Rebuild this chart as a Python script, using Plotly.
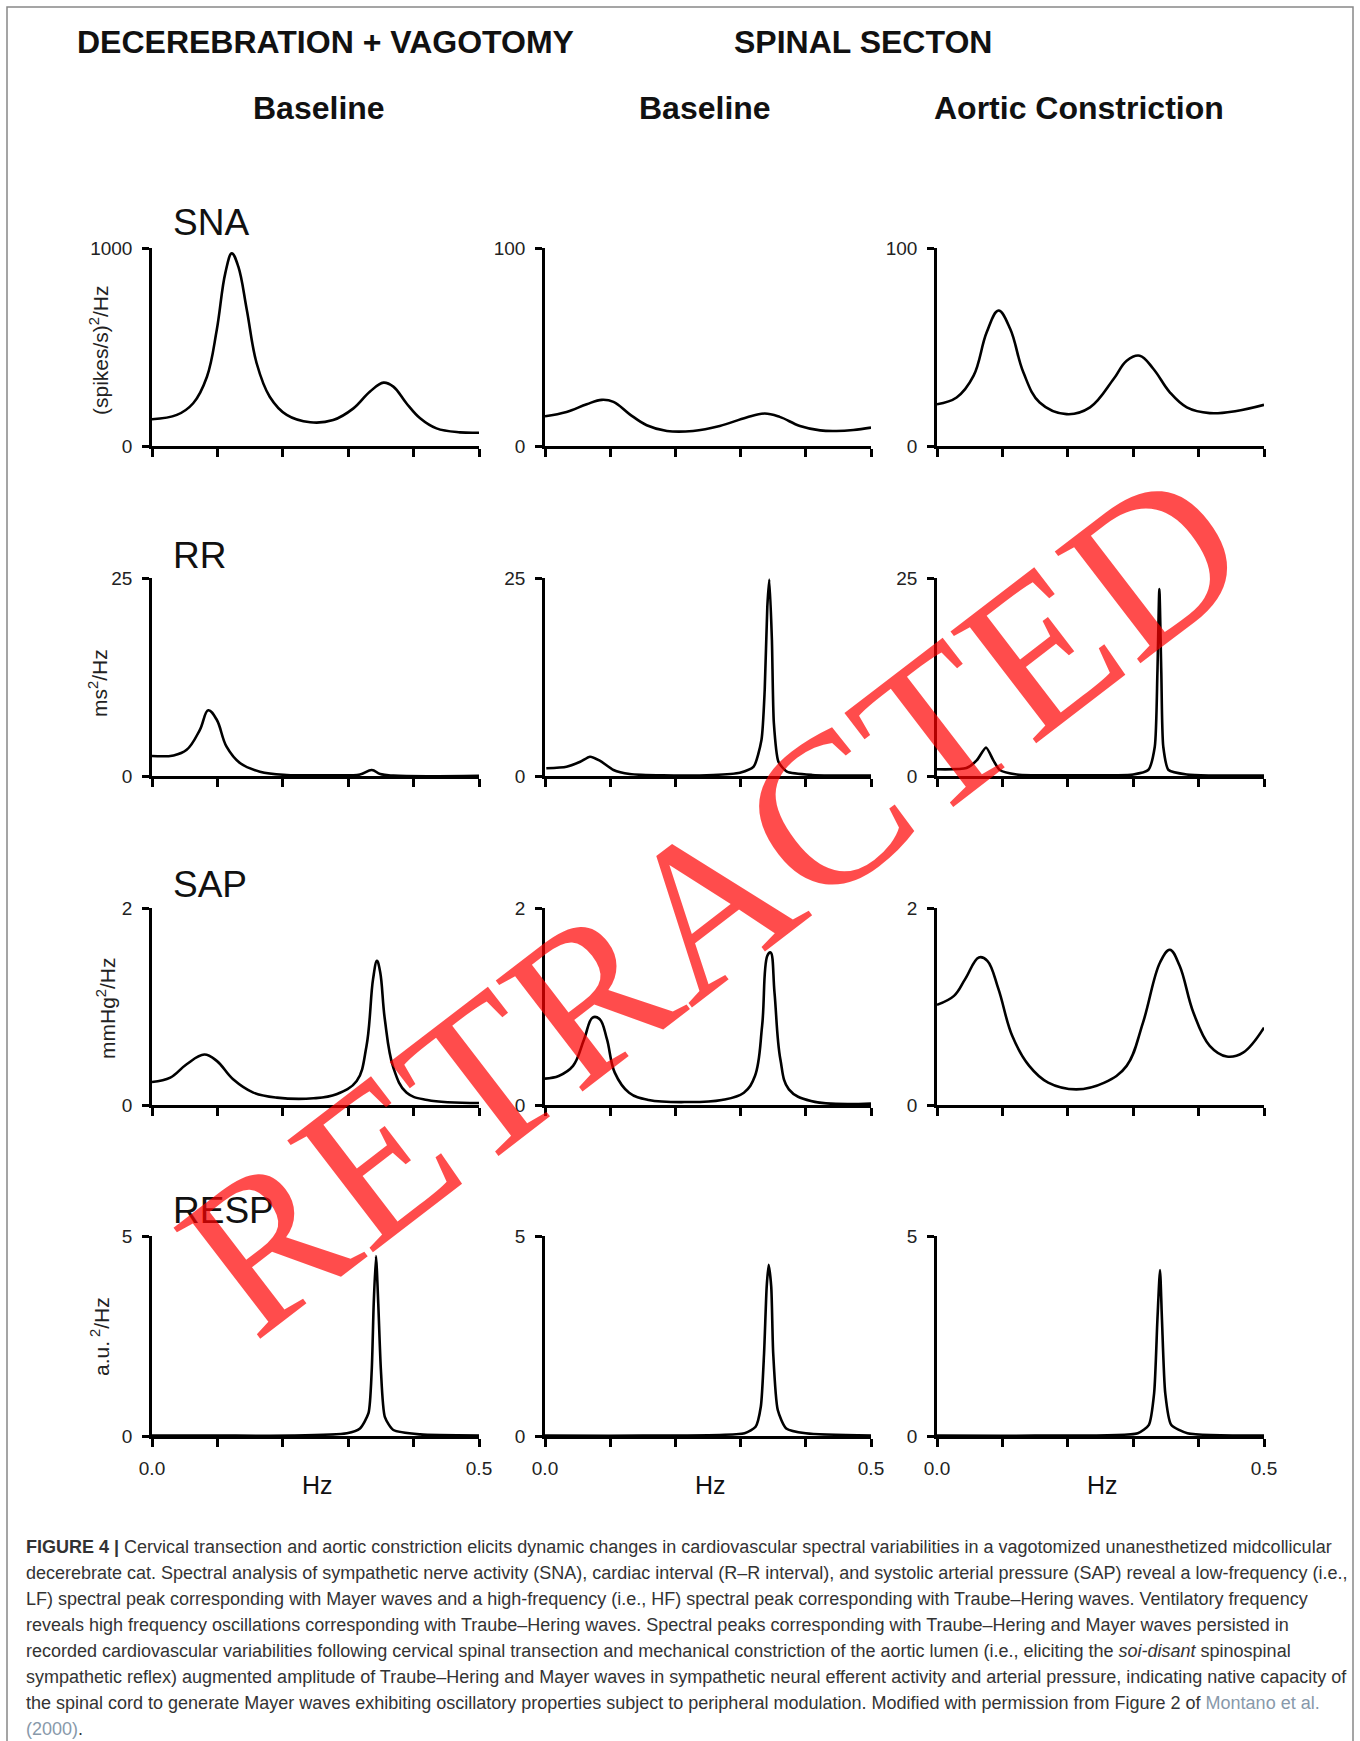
import plotly.graph_objects as go

# ---------------- data ----------------
# Row 1: SNA spectra ((spikes/s)^2/Hz)
SNA_DV_HZ = [0.000, 0.038, 0.063, 0.084, 0.099, 0.112, 0.122, 0.132, 0.145, 0.160, 0.180, 0.206, 0.242, 0.277, 0.308, 0.333, 0.354, 0.369, 0.389, 0.410, 0.435, 0.471, 0.500]
SNA_DV = [135, 157, 216, 350, 586, 872, 973, 906, 687, 418, 249, 157, 120, 131, 190, 274, 320, 300, 216, 140, 89, 69, 67]
SNA_SB_HZ = [0.000, 0.033, 0.064, 0.087, 0.105, 0.130, 0.156, 0.187, 0.227, 0.268, 0.309, 0.337, 0.360, 0.391, 0.422, 0.447, 0.473, 0.500]
SNA_SB = [15.0, 17.2, 21.1, 23.3, 22.3, 16.0, 10.5, 7.6, 7.6, 10.1, 14.4, 16.4, 14.7, 10.1, 7.9, 7.6, 8.1, 9.3]
SNA_AC_HZ = [0.000, 0.030, 0.056, 0.076, 0.094, 0.112, 0.132, 0.157, 0.198, 0.234, 0.270, 0.290, 0.310, 0.331, 0.356, 0.382, 0.417, 0.458, 0.500]
SNA_AC = [21.1, 24.5, 35.5, 57.4, 68.4, 59.1, 37.2, 22.0, 16.1, 19.5, 33.8, 43.1, 45.6, 38.9, 27.1, 19.5, 16.6, 17.7, 20.8]

# Row 2: RR spectra (ms^2/Hz)
RR_DV_HZ = [0.000, 0.033, 0.053, 0.073, 0.086, 0.099, 0.114, 0.135, 0.165, 0.206, 0.267, 0.318, 0.336, 0.349, 0.369, 0.500]
RR_DV = [2.53, 2.6, 3.3, 5.8, 8.3, 7.1, 3.7, 1.6, 0.55, 0.13, 0.1, 0.2, 0.76, 0.25, 0.05, 0.03]
RR_SB_HZ = [0.002, 0.033, 0.054, 0.069, 0.084, 0.105, 0.130, 0.181, 0.258, 0.299, 0.320, 0.332, 0.337, 0.341, 0.344, 0.348, 0.351, 0.358, 0.371, 0.410, 0.500]
RR_SB = [0.97, 1.18, 1.8, 2.44, 1.94, 0.76, 0.25, 0.08, 0.13, 0.42, 1.18, 4.55, 10.9, 21.4, 24.8, 17.2, 6.7, 1.8, 0.55, 0.13, 0.05]
RR_AC_HZ = [0.000, 0.045, 0.061, 0.075, 0.086, 0.096, 0.122, 0.198, 0.300, 0.323, 0.333, 0.337, 0.340, 0.343, 0.346, 0.354, 0.382, 0.500]
RR_AC = [0.85, 1.0, 2.0, 3.6, 2.0, 0.76, 0.2, 0.08, 0.2, 0.76, 3.7, 13.0, 23.6, 13.0, 3.7, 0.76, 0.2, 0.05]

# Row 3: SAP spectra (mmHg^2/Hz)
SAP_DV_HZ = [0.000, 0.028, 0.053, 0.080, 0.099, 0.124, 0.155, 0.191, 0.247, 0.282, 0.313, 0.328, 0.338, 0.344, 0.349, 0.356, 0.369, 0.389, 0.421, 0.500]
SAP_DV = [0.234, 0.278, 0.414, 0.512, 0.448, 0.261, 0.126, 0.075, 0.068, 0.109, 0.244, 0.600, 1.278, 1.464, 1.346, 0.871, 0.380, 0.126, 0.050, 0.020]
SAP_SB_HZ = [0.000, 0.021, 0.043, 0.060, 0.073, 0.084, 0.095, 0.107, 0.129, 0.159, 0.219, 0.271, 0.305, 0.322, 0.333, 0.341, 0.346, 0.352, 0.361, 0.374, 0.408, 0.500]
SAP_SB = [0.268, 0.295, 0.397, 0.668, 0.888, 0.871, 0.668, 0.329, 0.125, 0.051, 0.030, 0.051, 0.125, 0.295, 0.803, 1.515, 1.549, 1.142, 0.464, 0.159, 0.040, 0.014]
SAP_AC_HZ = [0.000, 0.026, 0.043, 0.064, 0.077, 0.094, 0.115, 0.141, 0.170, 0.213, 0.256, 0.290, 0.315, 0.341, 0.356, 0.371, 0.392, 0.417, 0.443, 0.468, 0.500]
SAP_AC = [1.017, 1.108, 1.278, 1.498, 1.464, 1.176, 0.702, 0.397, 0.227, 0.159, 0.227, 0.397, 0.837, 1.447, 1.576, 1.414, 0.939, 0.600, 0.492, 0.532, 0.786]

# Row 4: respiration spectra (a.u.^2/Hz)
RESP_DV_HZ = [0.000, 0.100, 0.216, 0.298, 0.318, 0.331, 0.336, 0.339, 0.3425, 0.346, 0.350, 0.356, 0.369, 0.410, 0.500]
RESP_DV = [0.01, 0.01, 0.01, 0.07, 0.19, 0.57, 1.65, 3.3, 4.5, 3.3, 1.65, 0.48, 0.15, 0.04, 0.01]
RESP_SB_HZ = [0.000, 0.150, 0.306, 0.323, 0.331, 0.336, 0.340, 0.343, 0.347, 0.350, 0.357, 0.370, 0.400, 0.500]
RESP_SB = [0.01, 0.01, 0.07, 0.23, 0.73, 2.07, 3.73, 4.28, 3.73, 2.07, 0.65, 0.19, 0.07, 0.01]
RESP_AC_HZ = [0.000, 0.150, 0.307, 0.324, 0.332, 0.337, 0.341, 0.344, 0.349, 0.358, 0.383, 0.500]
RESP_AC = [0.01, 0.01, 0.07, 0.28, 1.07, 2.9, 4.15, 2.9, 1.07, 0.28, 0.07, 0.01]

ROW_LABELS = ["SNA", "RR", "SAP", "RESP"]
Y_TITLES = ["(spikes/s)<sup>2</sup>/Hz", "ms<sup>2</sup>/Hz", "mmHg<sup>2</sup>/Hz", "a.u.<sup> 2</sup>/Hz"]
Y_MAX = [[1000, 100, 100], [25, 25, 25], [2, 2, 2], [5, 5, 5]]
X_MAJOR = [0.0, 0.5]
X_MAJOR_TEXT = ["0.0", "0.5"]
X_MINOR = [0.1, 0.2, 0.3, 0.4]
COL_HEADINGS = ["Baseline", "Baseline", "Aortic Constriction"]
GROUP_HEADINGS = ["DECEREBRATION + VAGOTOMY", "SPINAL SECTON"]

SERIES = [
    [(SNA_DV_HZ, SNA_DV), (SNA_SB_HZ, SNA_SB), (SNA_AC_HZ, SNA_AC)],
    [(RR_DV_HZ, RR_DV), (RR_SB_HZ, RR_SB), (RR_AC_HZ, RR_AC)],
    [(SAP_DV_HZ, SAP_DV), (SAP_SB_HZ, SAP_SB), (SAP_AC_HZ, SAP_AC)],
    [(RESP_DV_HZ, RESP_DV), (RESP_SB_HZ, RESP_SB), (RESP_AC_HZ, RESP_AC)],
]

LINK = "#8899aa"
CAPTION = [
    "<b>FIGURE 4 |</b> Cervical transection and aortic constriction elicits dynamic changes in cardiovascular spectral variabilities in a vagotomized unanesthetized midcollicular",
    "decerebrate cat. Spectral analysis of sympathetic nerve activity (SNA), cardiac interval (R–R interval), and systolic arterial pressure (SAP) reveal a low-frequency (i.e.,",
    "LF) spectral peak corresponding with Mayer waves and a high-frequency (i.e., HF) spectral peak corresponding with Traube–Hering waves. Ventilatory frequency",
    "reveals high frequency oscillations corresponding with Traube–Hering waves. Spectral peaks corresponding with Traube–Hering and Mayer waves persisted in",
    "recorded cardiovascular variabilities following cervical spinal transection and mechanical constriction of the aortic lumen (i.e., eliciting the <i>soi-disant</i> spinospinal",
    "sympathetic reflex) augmented amplitude of Traube–Hering and Mayer waves in sympathetic neural efferent activity and arterial pressure, indicating native capacity of",
    f"the spinal cord to generate Mayer waves exhibiting oscillatory properties subject to peripheral modulation. Modified with permission from Figure 2 of <span style='color:{LINK}'>Montano et al.</span>",
    f"<span style='color:{LINK}'>(2000)</span>.",
]
STAMP = "RETRACTED"

# ---------------- layout geometry (pixels) ----------------
W, H = 1360, 1741
COL_X = [(152, 479), (545, 871), (937, 1264)]
ROW_Y = [(248, 446), (578, 776), (908, 1105), (1236, 1436)]
FONT = "Liberation Sans, Arial, Helvetica, sans-serif"


def px(x):
    return x / W


def py(y):
    return 1 - y / H


fig = go.Figure()
layout = {}
idx = 0
for r in range(4):
    for c in range(3):
        idx += 1
        xs, ys = SERIES[r][c]
        sharp = (r == 3) or (r == 1 and c > 0)
        fig.add_trace(go.Scatter(
            x=xs, y=ys, xaxis=f"x{idx}", yaxis=f"y{idx}", mode="lines",
            line=dict(color="black", width=2.6, shape="spline", smoothing=0.6 if sharp else 1.1),
            hoverinfo="skip", showlegend=False,
        ))
        x0, x1 = COL_X[c]
        y0, y1 = ROW_Y[r]
        ax = dict(
            domain=[px(x0), px(x1)], range=[0, 0.5], anchor=f"y{idx}",
            showline=True, linecolor="black", linewidth=2.5, mirror=False,
            ticks="outside", ticklen=8, tickwidth=2.5, tickcolor="black",
            tickmode="array", tickvals=X_MAJOR, ticktext=X_MAJOR_TEXT, showticklabels=(r == 3),
            minor=dict(tickmode="array", tickvals=X_MINOR, ticks="outside", ticklen=8, tickwidth=2.5,
                       tickcolor="black", showgrid=False),
            showgrid=False, zeroline=False, fixedrange=True,
            tickfont=dict(family=FONT, size=19, color="#222"), ticklabelstandoff=5,
        )
        ay = dict(
            domain=[py(y1), py(y0)], range=[0, Y_MAX[r][c]], anchor=f"x{idx}",
            showline=True, linecolor="black", linewidth=2.5,
            ticks="outside", ticklen=7, tickwidth=2.5, tickcolor="black",
            tickmode="array", tickvals=[0, Y_MAX[r][c]], ticktext=["0", str(Y_MAX[r][c])],
            showgrid=False, zeroline=False, fixedrange=True,
            tickfont=dict(family=FONT, size=19, color="#222"), ticklabelstandoff=6,
        )
        key = "" if idx == 1 else str(idx)
        layout[f"xaxis{key}"] = ax
        layout[f"yaxis{key}"] = ay


def note(x, y, text, size, xanchor="center", color="#111", family=FONT, angle=0):
    return dict(x=px(x), y=py(y), xanchor=xanchor, yanchor="middle", text=text, textangle=angle,
                font=dict(family=family, size=size, color=color), showarrow=False,
                xref="paper", yref="paper")


annotations = []
annotations.append(note(75, 42, f"<b>{GROUP_HEADINGS[0]}</b>", 32, xanchor="left"))
annotations.append(note(863, 42, f"<b>{GROUP_HEADINGS[1]}</b>", 32))
for c, hx in enumerate([319, 705, 1079]):
    annotations.append(note(hx, 108, f"<b>{COL_HEADINGS[c]}</b>", 32))
for r, ly in enumerate([223, 555, 884, 1210]):
    annotations.append(note(171, ly, ROW_LABELS[r], 37, xanchor="left"))
for r, (tx, ty) in enumerate([(99, 350), (98, 683), (106, 1008), (100, 1337)]):
    annotations.append(note(tx, ty, Y_TITLES[r], 21, color="#222", angle=-90))
for c in range(3):
    cx = (COL_X[c][0] + COL_X[c][1]) / 2 + 2
    annotations.append(note(cx, 1485, "Hz", 25))
for i, line in enumerate(CAPTION):
    annotations.append(note(24, 1547 + i * 26.0, line, 18, xanchor="left", color="#333"))
annotations.append(note(712, 900, STAMP, 215, color="rgba(255,0,0,0.7)",
                        family="Liberation Serif, Times New Roman, serif", angle=-37.5))

fig.update_layout(
    width=W, height=H, margin=dict(l=0, r=0, t=0, b=0, autoexpand=False),
    paper_bgcolor="white", plot_bgcolor="rgba(0,0,0,0)",
    annotations=annotations,
    shapes=[dict(type="rect", xref="paper", yref="paper", x0=px(7), x1=px(1353), y0=py(1760), y1=py(7),
                 line=dict(color="#888", width=1.5))],
    **layout,
)
fig.write_html(
    "out.html",
    config={"responsive": False, "displayModeBar": False},
    post_script="document.body.style.margin='0px';document.body.style.padding='0px';",
)
